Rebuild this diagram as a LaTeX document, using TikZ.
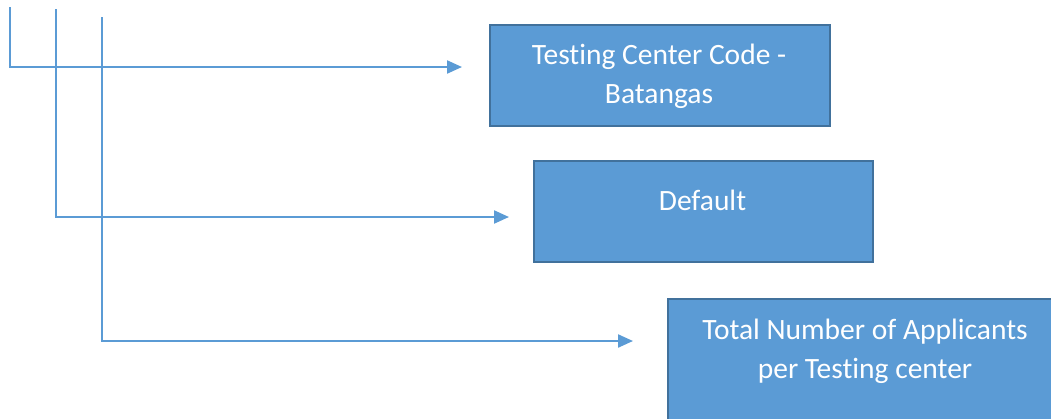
\documentclass[tikz,border=0pt]{standalone}
\usepackage{fontspec}
\setmainfont{Carlito}[Ligatures=NoCommon]
\usetikzlibrary{arrows.meta,positioning,calc}
\definecolor{boxfill}{HTML}{5B9BD5}
\definecolor{boxline}{HTML}{41719C}
\definecolor{wire}{HTML}{5B9BD5}
\tikzset{
  box/.style={draw=boxline, line width=2.2pt, fill=boxfill, rectangle, inner sep=0pt, anchor=north west},
  boxtext/.style={text=white, font=\fontsize{29.5}{39}\selectfont, align=center, inner sep=0pt},
  wireline/.style={draw=wire, line width=2.2pt, -{Triangle[length=15pt,width=13pt]}},
}
\begin{document}
\begin{tikzpicture}[x=1pt,y=-1pt]
  \useasboundingbox (0,0) rectangle (1051,418);
  \clip (0,0) rectangle (1051,418);

  % output boxes
  \node[box, minimum width=340pt, minimum height=101pt] (b1) at (489,24) {};
  \node[box, minimum width=339pt, minimum height=101pt] (b2) at (533,160) {};
  \node[box, minimum width=400pt, minimum height=160pt] (b3) at (667,298) {};

  % box captions
  \node[boxtext] (t1) at (659,76) {Testing Center Code -\\Batangas};
  \node[boxtext] (t2) at (702.5,200) {Default};
  \node[boxtext] (t3) at (865,351) {Total Number of Applicants\\per Testing center};

  % connector ends
  \coordinate (s1) at (10,7);
  \coordinate (s2) at (56,9);
  \coordinate (s3) at (102,17);
  \coordinate (e1) at (462,67);
  \coordinate (e2) at (509,217);
  \coordinate (e3) at (633,341);

  % elbow connectors
  \draw[wireline] (s1) |- (e1);
  \draw[wireline] (s2) |- (e2);
  \draw[wireline] (s3) |- (e3);
\end{tikzpicture}
\end{document}
